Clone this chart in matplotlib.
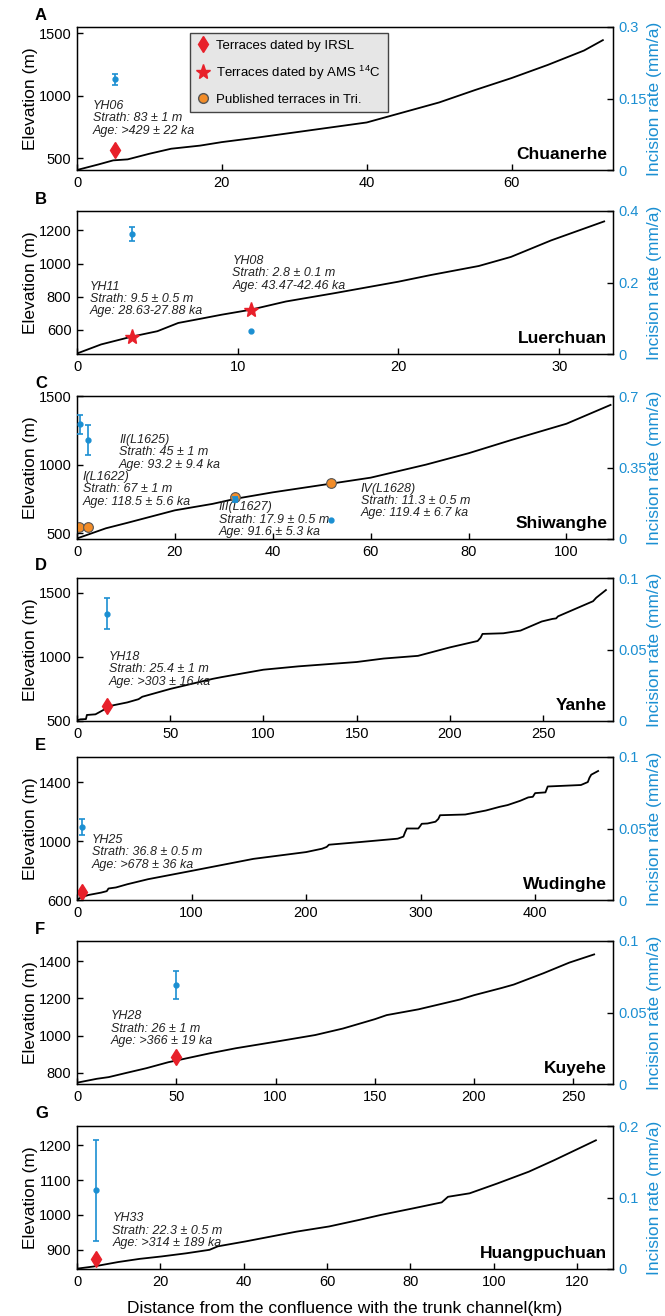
import matplotlib
matplotlib.use('Agg')
import matplotlib.pyplot as plt
from matplotlib.lines import Line2D

plt.rcParams['font.family'] = ['Liberation Sans', 'DejaVu Sans']
plt.rcParams['mathtext.fontset'] = 'custom'
plt.rcParams['mathtext.rm'] = 'Liberation Sans'

# ---------------- data ----------------
panel_letters = ['A', 'B', 'C', 'D', 'E', 'F', 'G']
river_names = ['Chuanerhe', 'Luerchuan', 'Shiwanghe', 'Yanhe', 'Wudinghe', 'Kuyehe', 'Huangpuchuan']

dist_A = [0, 3, 5, 7, 10, 13, 17, 20, 25, 30, 35, 40, 45, 50, 52, 55, 60, 65, 70, 72.6]
elev_A = [405, 450, 482, 490, 535, 575, 600, 628, 665, 705, 745, 785, 865, 945, 985, 1045, 1140, 1245, 1360, 1443]

dist_B = [0, 1.5, 3.4, 5, 6.3, 7.5, 9, 10.8, 13, 16, 20, 22, 25, 27, 29.5, 32.8]
elev_B = [455, 510, 557, 590, 640, 662, 690, 720, 770, 820, 890, 930, 985, 1040, 1140, 1255]

dist_C = [0, 5.9, 10.3, 20, 27.7, 32.5, 40, 52, 60, 71.3, 80, 88.7, 100, 109]
elev_C = [462, 536, 576, 667, 714, 752, 798, 862, 905, 1000, 1083, 1179, 1298, 1435]

dist_D = [0, 1.8, 4.8, 5.3, 9.9, 13.3, 17.9, 27, 33, 35, 50, 72.9, 77.5, 100, 118.7, 150, 164.5,
          182.9, 200, 214.9, 216.5, 217.5, 228.7, 237.9, 249.3, 255, 257, 258, 276.8, 277.5, 278.5, 283.7]
elev_D = [505, 513, 515, 547, 552, 579, 618, 645, 670, 689, 750, 829, 842, 900, 926, 960, 987,
          1008, 1074, 1124, 1150, 1179, 1184, 1205, 1276, 1296, 1300, 1316, 1434, 1445, 1461, 1521]

dist_E = [0, 3, 10, 21, 26, 27.5, 34, 44, 62, 101, 154, 200, 214, 218, 220, 247, 280, 285, 286.5, 288,
          298, 299.5, 301, 306, 313, 315.5, 317, 339, 357, 369, 376, 387, 394, 398, 400, 409, 411,
          440, 446, 447.5, 449, 455]
elev_E = [600, 616, 634, 650, 660, 678, 685, 707, 741, 799, 879, 925, 948, 960, 975, 993, 1016, 1030, 1060, 1085,
          1085, 1100, 1117, 1119, 1131, 1150, 1175, 1180, 1207, 1232, 1244, 1273, 1296, 1300, 1325, 1330, 1370,
          1380, 1400, 1430, 1450, 1475]

dist_F = [0, 10, 16, 25, 35, 46, 50, 67, 80, 100, 120, 134, 150, 156, 172, 193, 200, 214, 220, 235, 248, 260.5]
elev_F = [747, 768, 777, 800, 825, 857, 866, 905, 932, 967, 1003, 1038, 1088, 1110, 1141, 1194, 1217, 1256,
          1274, 1335, 1392, 1436]

dist_G = [0, 3.9, 9.9, 15, 20.3, 26.2, 31.8, 33.8, 40.4, 46.5, 52.6, 60.5, 67.8, 72.9, 80.7, 87.5, 89,
          94.2, 100.8, 108.4, 114.5, 124.5]
elev_G = [846, 852, 865, 874, 881, 890, 900, 910, 924, 938, 952, 967, 986, 1000, 1019, 1036, 1052,
          1062, 1090, 1124, 1157, 1214]

# incision rates (mm/a) at terrace sites
rate_x = [[5.3], [3.4, 10.8], [0.6, 2.3, 32.3, 51.9], [16.3], [4], [50], [4.5]]
rate_v = [[0.19], [0.336, 0.065], [0.562, 0.485, 0.195, 0.094], [0.075], [0.051], [0.0693], [0.11]]
rate_e = [[0.011], [0.02, 0.0], [0.047, 0.072, 0.012, 0.0], [0.011], [0.0057], [0.0098], [0.0707]]

# terraces: IRSL (diamond), AMS 14C (star), published (circle)
irsl_x = [[5.3], [], [], [16.3], [4], [50], [4.5]]
irsl_y = [[565], [], [], [615], [652], [885], [873]]
ams_x = [[], [3.4, 10.8], [], [], [], [], []]
ams_y = [[], [557, 720], [], [], [], [], []]
pub_x = [[], [], [0.5, 2.2, 32.3, 51.9], [], [], [], []]
pub_y = [[], [], [545, 545, 765, 864], [], [], [], []]

# annotation texts (x, y of middle line, text)
notes = [
    [(2.2, 820, 'YH06\nStrath: 83 ± 1 m\nAge: >429 ± 22 ka')],
    [(0.8, 785, 'YH11\nStrath: 9.5 ± 0.5 m\nAge: 28.63-27.88 ka'),
     (9.66, 940, 'YH08\nStrath: 2.8 ± 0.1 m\nAge: 43.47-42.46 ka')],
    [(8.6, 1090, 'II(L1625)\nStrath: 45 ± 1 m\nAge: 93.2 ± 9.4 ka'),
     (1.15, 820, 'I(L1622)\nStrath: 67 ± 1 m\nAge: 118.5 ± 5.6 ka'),
     (29.0, 600, 'III(L1627)\nStrath: 17.9 ± 0.5 m\nAge: 91.6 ± 5.3 ka'),
     (58.0, 735, 'IV(L1628)\nStrath: 11.3 ± 0.5 m\nAge: 119.4 ± 6.7 ka')],
    [(17.0, 905, 'YH18\nStrath: 25.4 ± 1 m\nAge: >303 ± 16 ka')],
    [(13.0, 925, 'YH25\nStrath: 36.8 ± 0.5 m\nAge: >678 ± 36 ka')],
    [(17.0, 1036, 'YH28\nStrath: 26 ± 1 m\nAge: >366 ± 19 ka')],
    [(8.5, 955, 'YH33\nStrath: 22.3 ± 0.5 m\nAge: >314 ± 189 ka')],
]

dists = [dist_A, dist_B, dist_C, dist_D, dist_E, dist_F, dist_G]
elevs = [elev_A, elev_B, elev_C, elev_D, elev_E, elev_F, elev_G]

xlims = [(0, 74), (0, 33.35), (0, 109.5), (0, 287.5), (0, 468), (0, 270), (0, 128.6)]
ylims = [(405, 1548), (452, 1318), (458, 1500), (500, 1615), (600, 1570), (740, 1508), (845, 1255)]
xticks = [[0, 20, 40, 60], [0, 10, 20, 30], [0, 20, 40, 60, 80, 100], [0, 50, 100, 150, 200, 250],
          [0, 100, 200, 300, 400], [0, 50, 100, 150, 200, 250], [0, 20, 40, 60, 80, 100, 120]]
yticks = [[500, 1000, 1500], [600, 800, 1000, 1200], [500, 1000, 1500], [500, 1000, 1500],
          [600, 1000, 1400], [800, 1000, 1200, 1400], [900, 1000, 1100, 1200]]
rticks = [[0, 0.15, 0.3], [0, 0.2, 0.4], [0, 0.35, 0.7], [0, 0.05, 0.1], [0, 0.05, 0.1],
          [0, 0.05, 0.1], [0, 0.1, 0.2]]
rlabels = [['0', '0.15', '0.3'], ['0', '0.2', '0.4'], ['0', '0.35', '0.7'], ['0', '0.05', '0.1'],
           ['0', '0.05', '0.1'], ['0', '0.05', '0.1'], ['0', '0.1', '0.2']]

# ---------------- style ----------------
BLUE = '#1b8fd2'
RED = '#e8202a'
ORANGE = '#f28c28'

W, H = 665, 1316
fig = plt.figure(figsize=(W / 100, H / 100), dpi=100)
fig.patch.set_facecolor('white')

left_px, right_px = 77, 613
span = right_px - left_px
tops_px = [27, 211, 396, 578, 757, 941, 1126]
height_px = 143

for i in range(7):
    top = tops_px[i]
    ax = fig.add_axes([left_px / W, 1 - (top + height_px) / H, span / W, height_px / H])
    ax.plot(dists[i], elevs[i], color='black', lw=1.3, zorder=3)
    ax.set_xlim(*xlims[i])
    ax.set_ylim(*ylims[i])
    ax.set_xticks(xticks[i])
    ax.set_yticks(yticks[i])
    ax.tick_params(direction='in', length=4, width=1, labelsize=10.5, pad=4)
    for s in ax.spines.values():
        s.set_linewidth(1.0)
    ax.set_ylabel('Elevation (m)', fontsize=12.5, va='center')
    ax.yaxis.set_label_coords((30 - left_px) / span, 0.5)

    if irsl_x[i]:
        ax.plot(irsl_x[i], irsl_y[i], 'd', color=RED, ms=8, zorder=5)
    if ams_x[i]:
        ax.plot(ams_x[i], ams_y[i], '*', color=RED, ms=11, zorder=5)
    if pub_x[i]:
        ax.plot(pub_x[i], pub_y[i], 'o', mfc=ORANGE, mec='#555555', mew=0.8, ms=7, zorder=5)

    for (tx, ty, txt) in notes[i]:
        ax.text(tx, ty, txt, fontsize=9, style='italic', ha='left', va='center',
                linespacing=1.05, color='#222222', zorder=6)

    ax.text(0.989, 0.11, river_names[i], transform=ax.transAxes, ha='right', va='center',
            fontsize=12.5, fontweight='bold', zorder=6)
    ax.text((35 - left_px) / span, 1 + 12 / height_px, panel_letters[i],
            transform=ax.transAxes, ha='left', va='center', fontsize=12, fontweight='bold')

    ax2 = ax.twinx()
    ax2.set_ylim(0, rticks[i][-1])
    ax2.set_yticks(rticks[i])
    ax2.set_yticklabels(rlabels[i])
    ax2.tick_params(direction='in', length=4, width=1, labelsize=10.5, labelcolor=BLUE, pad=4)
    ax2.set_ylabel('Incision rate (mm/a)', fontsize=12.5, color=BLUE, va='center')
    ax2.yaxis.set_label_coords((654 - left_px) / span, 0.5)
    for xv, rv, ev in zip(rate_x[i], rate_v[i], rate_e[i]):
        if ev > 0:
            ax2.errorbar([xv], [rv], yerr=[ev], fmt='o', color=BLUE, ms=3.5, capsize=2,
                         elinewidth=1.2, capthick=1.2, zorder=7)
        else:
            ax2.plot([xv], [rv], 'o', color=BLUE, ms=3.5, zorder=7)

    if i == 0:
        handles = [
            Line2D([], [], marker='d', color=RED, ls='none', ms=8),
            Line2D([], [], marker='*', color=RED, ls='none', ms=11),
            Line2D([], [], marker='o', mfc=ORANGE, mec='#555555', ls='none', ms=7),
        ]
        labels = ['Terraces dated by IRSL', 'Terraces dated by AMS $^{14}$C', 'Published terraces in Tri.']
        leg = ax2.legend(handles, labels, loc='upper left', bbox_to_anchor=(0.211, 0.96),
                         borderaxespad=0, fontsize=9.5, frameon=True, fancybox=False,
                         edgecolor='#444444', facecolor='#e6e6e6', framealpha=1,
                         handlelength=1.0, handletextpad=0.5, labelspacing=0.9,
                         borderpad=0.5)
        leg.get_frame().set_linewidth(1.0)

    if i == 6:
        ax.set_xlabel('Distance from the confluence with the trunk channel(km)', fontsize=12.5)
        ax.xaxis.set_label_coords(0.5, -32 / height_px)

fig.savefig('out.png', dpi=100, facecolor=fig.get_facecolor())
